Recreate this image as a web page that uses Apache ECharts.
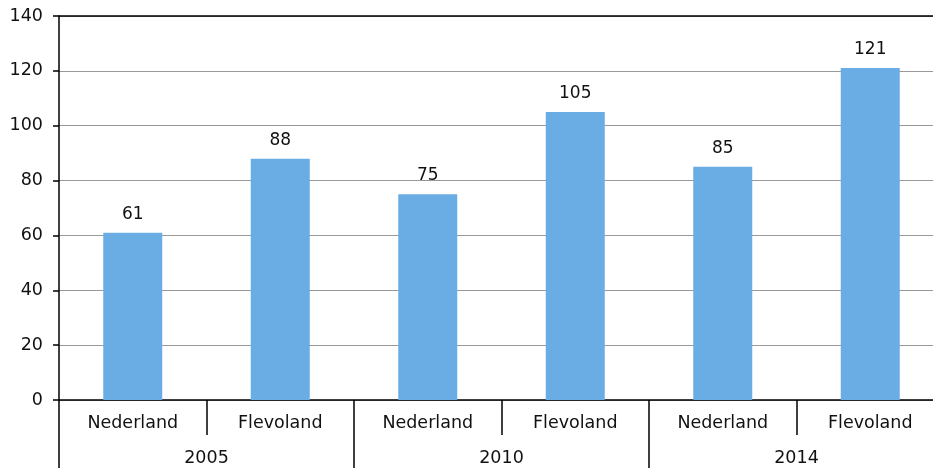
<!DOCTYPE html>
<html>
<head>
<meta charset="utf-8">
<script src="https://cdn.jsdelivr.net/npm/echarts@6/dist/echarts.min.js"></script>
<style>html,body{margin:0;padding:0;background:#fff;overflow:hidden}#c{width:945px;height:468px}</style>
</head>
<body>
<div id="c"></div>
<script>
const categories = ['Nederland', 'Flevoland', 'Nederland', 'Flevoland', 'Nederland', 'Flevoland'];
const years = ['2005', '2010', '2014'];
const values = [61, 88, 75, 105, 85, 121];
const yTicks = { min: 0, max: 140, interval: 20 };

const font = 'DejaVu Sans, Verdana, sans-serif';
const chart = echarts.init(document.getElementById('c'));
chart.setOption({
  animation: false,
  grid: { left: 59, right: 1, top: 16, bottom: 68, containLabel: false },
  xAxis: [
    {
      type: 'category', data: categories, position: 'bottom',
      axisLine: { show: true, lineStyle: { color: '#000', width: 1.5 } },
      axisTick: { show: true, length: 35, lineStyle: { color: '#000', width: 1.5 } },
      axisLabel: { color: '#111', fontFamily: font, fontSize: 17.5, margin: 14 }
    },
    {
      type: 'category', data: years, position: 'bottom', gridIndex: 0,
      axisLine: { show: false },
      axisTick: { show: true, length: 70, lineStyle: { color: '#000', width: 1.5 } },
      axisLabel: { color: '#111', fontFamily: font, fontSize: 17.5, margin: 49 }
    },
    {
      type: 'category', data: categories, position: 'top', gridIndex: 0,
      axisLine: { show: true, lineStyle: { color: '#000', width: 1.5 } },
      axisTick: { show: false }, axisLabel: { show: false }
    }
  ],
  yAxis: {
    type: 'value', min: yTicks.min, max: yTicks.max, interval: yTicks.interval,
    axisLine: { show: true, lineStyle: { color: '#000', width: 1.5 } },
    axisTick: { show: true, length: 6, lineStyle: { color: '#000', width: 1.5 } },
    axisLabel: { color: '#111', fontFamily: font, fontSize: 17.5, margin: 16 },
    splitLine: { show: true, lineStyle: { color: '#999', width: 1.2 } }
  },
  series: [{
    type: 'bar', data: values, xAxisIndex: 0,
    barCategoryGap: '60%',
    itemStyle: { color: '#6aace4' },
    label: { show: true, position: 'top', distance: 10, color: '#111', fontFamily: font, fontSize: 17 }
  }]
});
</script>
</body>
</html>
